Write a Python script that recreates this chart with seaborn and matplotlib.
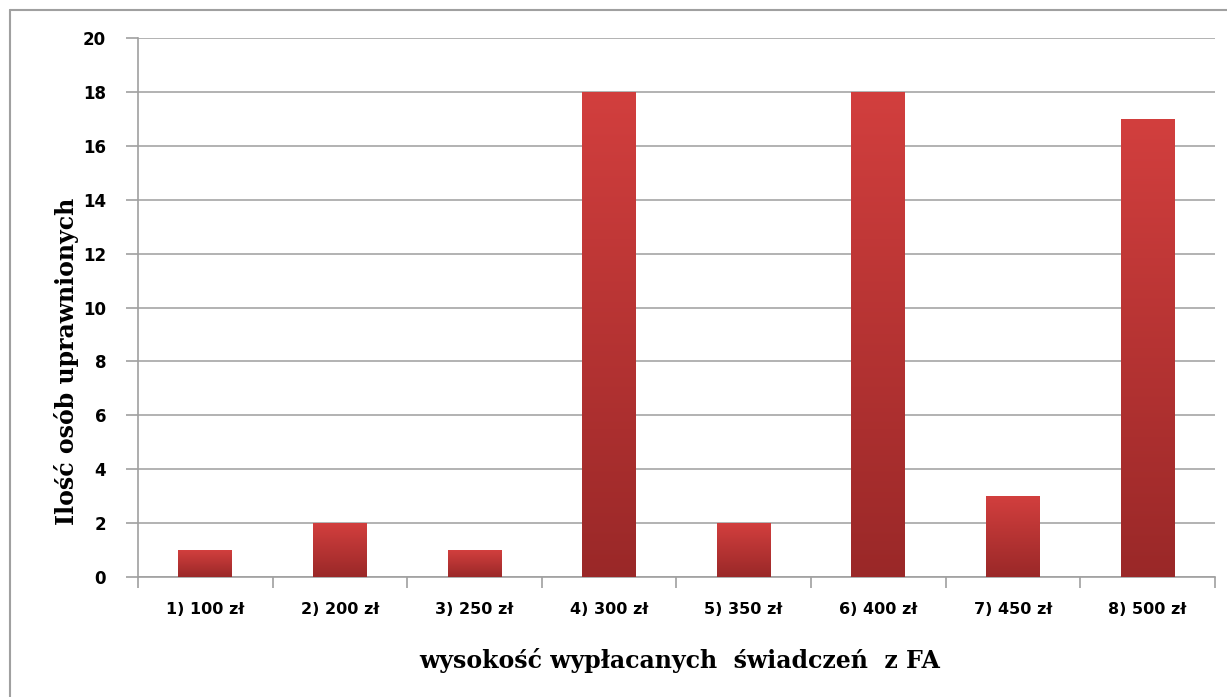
import matplotlib
matplotlib.use("Agg")
import matplotlib.pyplot as plt
import numpy as np
import pandas as pd
import seaborn as sns
from matplotlib.colors import LinearSegmentedColormap
from matplotlib.lines import Line2D

# dane
kategorie = ["1) 100 zł", "2) 200 zł", "3) 250 zł", "4) 300 zł",
             "5) 350 zł", "6) 400 zł", "7) 450 zł", "8) 500 zł"]
liczba_osob = [1, 2, 1, 18, 2, 18, 3, 17]
y_ticks = [0, 2, 4, 6, 8, 10, 12, 14, 16, 18, 20]

df = pd.DataFrame({"kategoria": kategorie, "liczba": liczba_osob})

sns.set_style("white")
plt.rcParams["font.family"] = ["DejaVu Sans"]

fig = plt.figure(figsize=(12.27, 6.97), dpi=100)
ax = fig.add_axes([0.1125, 0.172, 0.8775, 0.7735])

sns.barplot(data=df, x="kategoria", y="liczba", color="#c0393a", width=0.4,
            ax=ax, zorder=3)

# gradient na slupkach (jasniejszy u gory, ciemniejszy u dolu)
cmap = LinearSegmentedColormap.from_list("red_grad", ["#9a2828", "#d23f3e"])
grad = np.linspace(0, 1, 256).reshape(-1, 1)
for bar in ax.patches:
    x0, y0 = bar.get_x(), bar.get_y()
    w, h = bar.get_width(), bar.get_height()
    img = ax.imshow(grad, cmap=cmap, aspect="auto", origin="lower",
                    extent=[x0, x0 + w, y0, y0 + h], zorder=4)
    img.set_clip_path(bar)
    bar.set_edgecolor("none")

ax.set_xlim(-0.5, len(kategorie) - 0.5)
ax.set_ylim(0, 20)
ax.set_yticks(y_ticks)
ax.yaxis.grid(True, color="#a6a6a6", linewidth=1.2, zorder=0)
ax.set_axisbelow(True)

for s in ["top", "right"]:
    ax.spines[s].set_visible(False)
for s in ["left", "bottom"]:
    ax.spines[s].set_color("#a0a0a0")
    ax.spines[s].set_linewidth(1.2)

# znaczniki osi x na granicach kategorii
ax.set_xticks(np.arange(-0.5, len(kategorie) + 0.5, 1), minor=True)
ax.tick_params(axis="x", which="minor", length=8, color="#a0a0a0", width=1.2,
               direction="out", bottom=True)
ax.tick_params(axis="x", which="major", length=0, pad=18, labelcolor="black")
ax.tick_params(axis="y", length=9, color="#a0a0a0", width=1.2, direction="out",
               left=True, pad=14, labelcolor="black")

for lab in ax.get_xticklabels():
    lab.set_fontweight("bold")
    lab.set_fontsize(11.5)
for lab in ax.get_yticklabels():
    lab.set_fontweight("bold")
    lab.set_fontsize(12)

ax.set_xlabel("wysokość wypłacanych  świadczeń  z FA", fontsize=17,
              fontweight="bold", family=["DejaVu Serif"], va="center",
              color="black")
ax.set_ylabel("Ilość osób uprawnionych", fontsize=17, fontweight="bold",
              family=["DejaVu Serif"], va="center", color="black")
ax.xaxis.set_label_coords(0.503, -0.154)
ax.yaxis.set_label_coords(-0.066, 0.40)

# ramka wokol wykresu (tylko lewa i gorna krawedz widoczna)
fig.add_artist(Line2D([0.0085, 0.0085], [0.0, 0.986], transform=fig.transFigure,
                      color="#a0a0a0", linewidth=1.5))
fig.add_artist(Line2D([0.0085, 1.0], [0.986, 0.986], transform=fig.transFigure,
                      color="#a0a0a0", linewidth=1.5))

fig.savefig("out.png", dpi=100)
